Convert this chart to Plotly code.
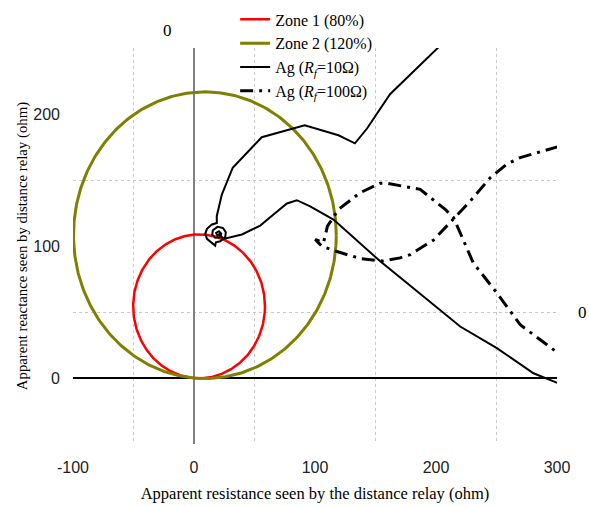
import numpy as np
import plotly.graph_objects as go

# Zone (mho) circles: centre (R, X) and radius, ohm
zone_names = ["Zone 1 (80%)", "Zone 2 (120%)"]
zone_center_r = [4.2, 9.0]
zone_center_x = [54.3, 108.2]
zone_colors = ["#ff0000", "#808000"]
zone_widths = [2.5, 3]

# Apparent impedance trajectory, Rf = 10 ohm
ag10_r = [202, 162, 143, 133, 119.4, 91.5, 56, 32, 23, 18.8, 18.9,
          14.8, 10.7, 9.3, 10.7, 17.5, 18.1, 21.7, 25.8, 26.3, 23.9, 19.4,
          15.6, 15.0, 17.5, 21.1, 22.5, 20.6, 18.3, 19.4, 21.0, 24.4,
          39.6, 54.7, 65.7, 76.8, 85.0, 96.0, 115.3, 153.9, 176, 220,
          250.3, 280.6, 301]
ag10_x = [250.5, 215, 189, 177.8, 183.9, 191.5, 182.4, 159.3, 139, 122.6, 117.5,
          116.3, 113.0, 109.2, 105.4, 100.3, 102.8, 103.6, 106.9, 110.4, 113.7, 114.5,
          111.9, 108.7, 106.2, 106.6, 109.4, 111.2, 110.0, 107.9, 109.0, 105.4,
          108.7, 115.5, 123.9, 132.2, 134.7, 130.0, 120.0, 88.4, 72, 39,
          22.6, 3.6, -4]

# Apparent impedance trajectory, Rf = 100 ohm
ag100_r = [301, 269.6, 258.5, 244.8, 228.3, 217.3, 207, 198, 189.6, 178.7,
           170.4, 156, 137.4, 118.1, 105.7, 100.2, 107, 110.3, 119.4, 137.2,
           153.9, 160, 186.9, 207.6, 214.5, 230.8, 250.3, 269.6, 301]
ag100_x = [175.3, 167, 162, 151.7, 134, 123.1, 113, 104.5, 99.8, 93.5,
           91, 88.6, 90.5, 95.8, 99.8, 105, 102.5, 115, 127.7, 140.3,
           147.5, 147.4, 142.9, 127.7, 121.5, 87.2, 64.4, 40.3, 18.8]

x_ticks = [-100, 0, 100, 200, 300]
y_ticks = [0, 100, 200]
x_grid = [-50, 50, 150, 250]
y_grid = [50, 150]

fig = go.Figure()

theta = np.linspace(0, 2 * np.pi, 361)
for name, cr, cx, col, w in zip(zone_names, zone_center_r, zone_center_x, zone_colors, zone_widths):
    rad = float(np.hypot(cr, cx))
    fig.add_trace(go.Scatter(
        x=cr + rad * np.cos(theta), y=cx + rad * np.sin(theta),
        mode="lines", name=name, line=dict(color=col, width=w)))

fig.add_trace(go.Scatter(
    x=ag10_r, y=ag10_x, mode="lines",
    name="Ag (<i>R</i><sub><i>f</i></sub>=10Ω)",
    line=dict(color="black", width=2)))

fig.add_trace(go.Scatter(
    x=ag100_r, y=ag100_x, mode="lines",
    name="Ag (<i>R</i><sub><i>f</i></sub>=100Ω)",
    line=dict(color="black", width=3, dash="13px,6px,3px,6px")))

serif = "Liberation Serif, Times New Roman, serif"
sans = "Liberation Sans, Arial, sans-serif"

fig.update_layout(
    width=589, height=506,
    margin=dict(l=73, r=32, t=48, b=62, autoexpand=False),
    paper_bgcolor="white", plot_bgcolor="white",
    showlegend=True,
    legend=dict(x=0.335, y=1.115, xanchor="left", yanchor="top",
                bgcolor="rgba(0,0,0,0)", font=dict(family=serif, size=16, color="black"),
                itemwidth=30, tracegroupgap=0),
    xaxis=dict(range=[-100, 300], tickvals=x_ticks, ticktext=[str(v) for v in x_ticks],
               showgrid=False, zeroline=True, zerolinecolor="#808080", zerolinewidth=2,
               showline=False, ticks="", ticklabelstandoff=12,
               tickfont=dict(family=sans, size=16, color="#222"),
               minor=dict(tickvals=x_grid, showgrid=True, gridcolor="#c8c8c8",
                          griddash="dot", gridwidth=1),
               title=dict(text="Apparent resistance seen by the distance relay (ohm)",
                          font=dict(family=serif, size=16.5, color="black"), standoff=12),
               automargin=False),
    yaxis=dict(range=[-50, 250], tickvals=y_ticks, ticktext=[str(v) for v in y_ticks],
               showgrid=False, zeroline=True, zerolinecolor="black", zerolinewidth=1.5,
               showline=False, ticks="", ticklabelstandoff=12,
               tickfont=dict(family=sans, size=16, color="#222"),
               minor=dict(tickvals=y_grid, showgrid=True, gridcolor="#c8c8c8",
                          griddash="dot", gridwidth=1),
               title=dict(text="Apparent reactance seen by distance relay (ohm)",
                          font=dict(family=serif, size=14.8, color="black"), standoff=2),
               automargin=False),
    annotations=[
        dict(text="0", xref="paper", yref="paper", x=0.196, y=1.045,
             xanchor="center", yanchor="middle", showarrow=False,
             font=dict(family=serif, size=17, color="black")),
        dict(text="0", xref="paper", yref="paper", x=1.052, y=0.331,
             xanchor="center", yanchor="middle", showarrow=False,
             font=dict(family=serif, size=17, color="black")),
    ],
)

fig.write_html("out.html")
